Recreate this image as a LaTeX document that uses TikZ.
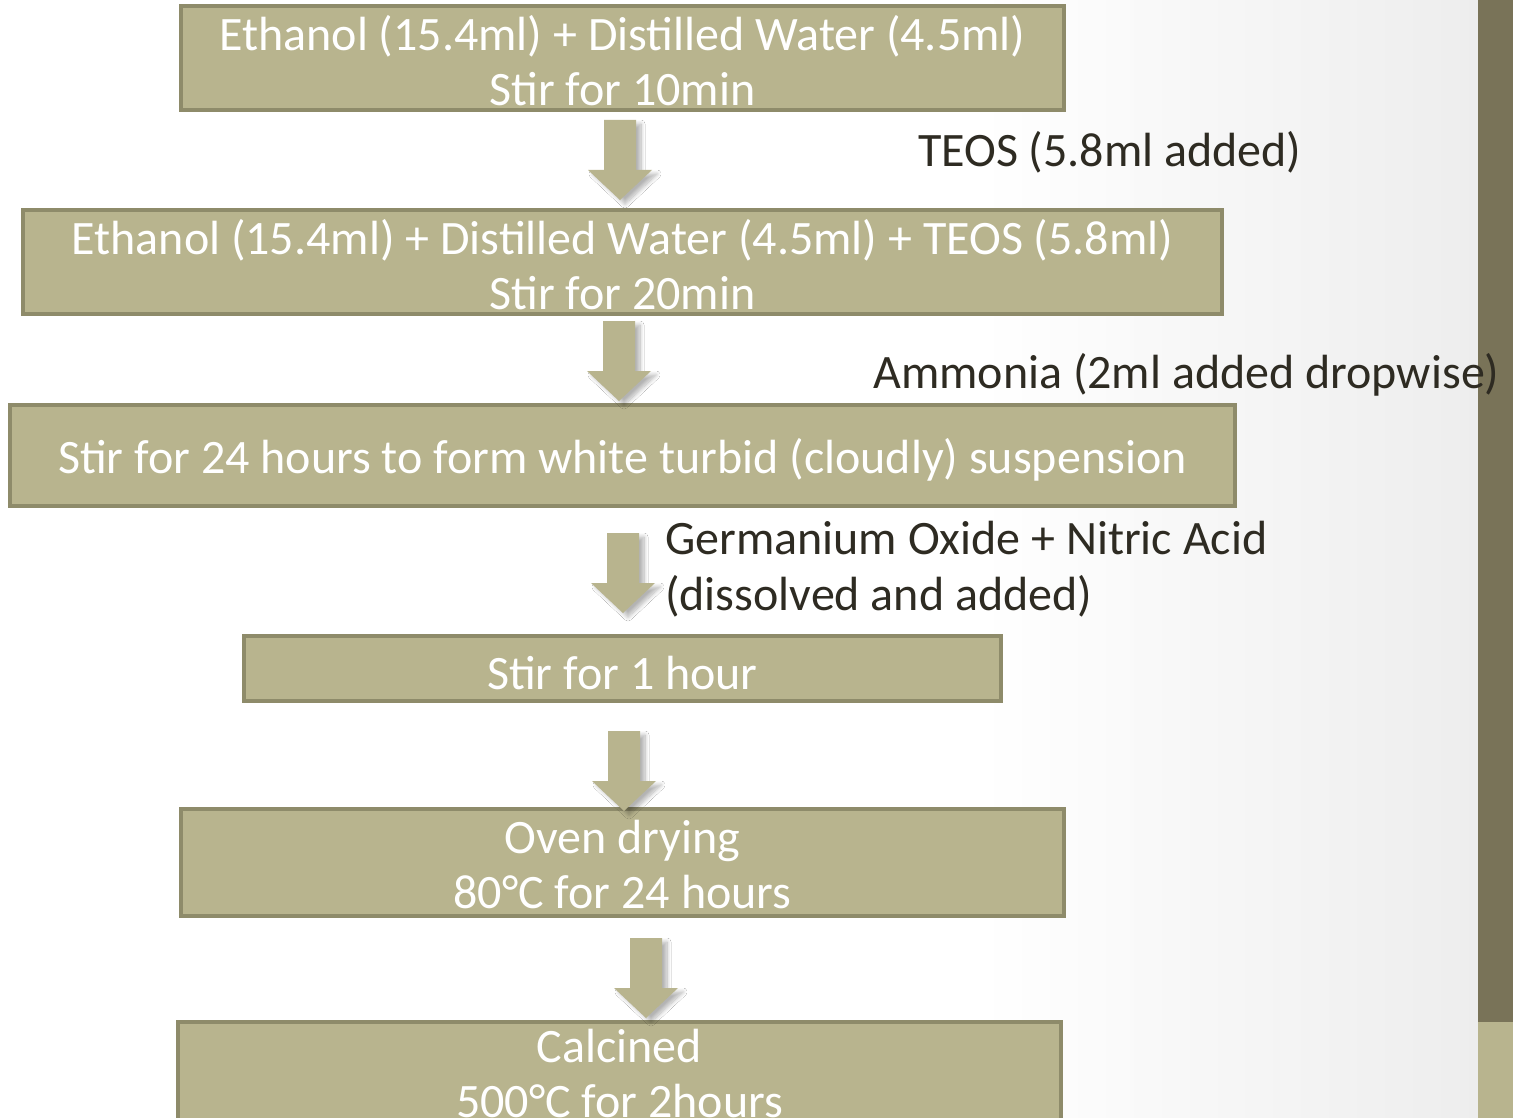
\documentclass[tikz,border=0pt]{standalone}
\usepackage{fontspec}
\setmainfont{Carlito}
\usetikzlibrary{shadows.blur}
\definecolor{boxfill}{RGB}{184,180,142}
\definecolor{boxline}{RGB}{142,139,106}
\definecolor{barcol}{RGB}{121,115,88}
\definecolor{notecol}{RGB}{46,43,34}
\tikzset{
  stepbox/.style={draw=boxline, line width=4pt, fill=boxfill, inner sep=0pt},
  boxtext/.style={text=white, align=center, inner sep=0pt, font=\fontsize{48}{55}\selectfont},
  note/.style={text=notecol, align=left, inner sep=0pt, font=\fontsize{48}{56}\selectfont},
  blockarrow/.pic={
    \fill[boxfill, blur shadow={shadow xshift=5pt, shadow yshift=-4pt, shadow opacity=30, shadow blur steps=10, shadow blur radius=4pt}]
      (-16,0) -- (16,0) -- (16,50) -- (32,50) -- (0,80) -- (-32,50) -- (-16,50) -- cycle;
  }
}

\begin{document}
\begin{tikzpicture}[x=1pt,y=-1pt]
\useasboundingbox (0,0) rectangle (1513,1118);
\clip (0,0) rectangle (1513,1118);

% background and side bar
\fill[white] (0,0) rectangle (1513,1118);
\shade[left color=white, right color=black!7] (980,0) rectangle (1478,1118);
\fill[barcol] (1478,0) rectangle (1513,1022);
\fill[boxfill] (1478,1022) rectangle (1513,1118);

% steps
\node[stepbox, minimum width=883, minimum height=104] (b1) at (622.5,58) {};
\node[stepbox, minimum width=1199, minimum height=104] (b2) at (622.5,262) {};
\node[stepbox, minimum width=1225, minimum height=101] (b3) at (622.5,455.5) {};
\node[stepbox, minimum width=757, minimum height=65] (b4) at (622.5,668.5) {};
\node[stepbox, minimum width=883, minimum height=107] (b5) at (622.5,862.5) {};
\node[stepbox, minimum width=883, minimum height=110] (b6) at (619.5,1077) {};

\node[boxtext] (t1) at (622.5,61) {Ethanol (15.4ml) + Distilled Water (4.5ml)\\Stir for 10min};
\node[boxtext] (t2) at (622.5,265) {Ethanol (15.4ml) + Distilled Water (4.5ml) + TEOS (5.8ml)\\Stir for 20min};
\node[boxtext] (t3) at (622.5,460) {Stir for 24 hours to form white turbid (cloudly) suspension};
\node[boxtext] (t4) at (622.5,673) {Stir for 1 hour};
\node[boxtext] (t5) at (622.5,865) {Oven drying\\80°C for 24 hours};
\node[boxtext] (t6) at (619.5,1074) {Calcined\\500°C for 2hours};

% arrows
\pic (a1) at (620,120) {blockarrow};
\pic (a2) at (619,321) {blockarrow};
\pic (a3) at (623,533) {blockarrow};
\pic (a4) at (624,731) {blockarrow};
\pic (a5) at (646,938) {blockarrow};

% additions
\node[note, anchor=base west] (n1) at (918,167) {TEOS (5.8ml added)};
\node[note, anchor=base west] (n2) at (873,388) {Ammonia (2ml added dropwise)};
\node[note, anchor=west] (n3) at (665,569) {Germanium Oxide + Nitric Acid\\(dissolved and added)};
\end{tikzpicture}
\end{document}
